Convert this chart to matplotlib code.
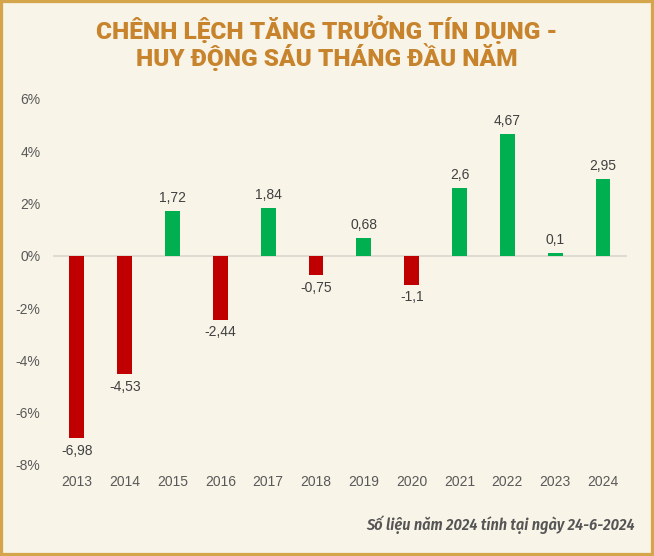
import matplotlib.pyplot as plt
from matplotlib.patches import Rectangle

years = ['2013', '2014', '2015', '2016', '2017', '2018', '2019', '2020', '2021', '2022', '2023', '2024']
values = [-6.98, -4.53, 1.72, -2.44, 1.84, -0.75, 0.68, -1.1, 2.6, 4.67, 0.1, 2.95]
labels = ['-6,98', '-4,53', '1,72', '-2,44', '1,84', '-0,75', '0,68', '-1,1', '2,6', '4,67', '0,1', '2,95']
yticks = [-8, -6, -4, -2, 0, 2, 4, 6]

bg = '#f8f4e8'
gold = '#d4a54b'
plt.rcParams['font.family'] = ['Liberation Sans', 'DejaVu Sans']

fig = plt.figure(figsize=(6.54, 5.56), dpi=100, facecolor=bg)
ax = fig.add_axes([0.081, 0.1637, 0.8777, 0.6583], facecolor=bg)

colors = ['#00b050' if v >= 0 else '#c00000' for v in values]
x = range(len(years))
ax.bar(x, values, width=0.31, color=colors)

for i, v in enumerate(values):
    if v >= 0:
        ax.text(i, v + 0.22, labels[i], ha='center', va='bottom', fontsize=10, color='#404040')
    else:
        ax.text(i, v - 0.22, labels[i], ha='center', va='top', fontsize=10, color='#404040')

ax.axhline(0, color='#d9d6ce', lw=1.2, zorder=0)
ax.set_xlim(-0.5, 11.5)
ax.set_ylim(-8, 6)
ax.set_yticks(yticks)
ax.set_yticklabels([f'{t}%' for t in yticks])
ax.set_xticks(list(x))
ax.set_xticklabels(years)
ax.tick_params(length=0, labelsize=10, labelcolor='#595959')
ax.tick_params(axis='y', pad=9)
ax.tick_params(axis='x', pad=7)
for s in ax.spines.values():
    s.set_visible(False)

fig.text(0.5, 0.923, 'CHÊNH LỆCH TĂNG TRƯỞNG TÍN DỤNG -\nHUY ĐỘNG SÁU THÁNG ĐẦU NĂM',
         ha='center', va='center', fontsize=17.6, fontweight=900, color='#c8842c',
         family=['Roboto', 'DejaVu Sans'], linespacing=0.97)

fig.text(0.971, 0.057, 'Số liệu năm 2024 tính tại ngày 24-6-2024', ha='right', va='center',
         fontsize=11.6, fontweight='semibold', style='italic', color='#555555',
         family=['Fira Sans Condensed', 'Roboto Condensed', 'Roboto'])

fig.patches.append(Rectangle((0, 0), 1, 1, transform=fig.transFigure, fill=False,
                             edgecolor=gold, lw=4.5, zorder=10))

fig.savefig('out.png', dpi=100, facecolor=bg)
